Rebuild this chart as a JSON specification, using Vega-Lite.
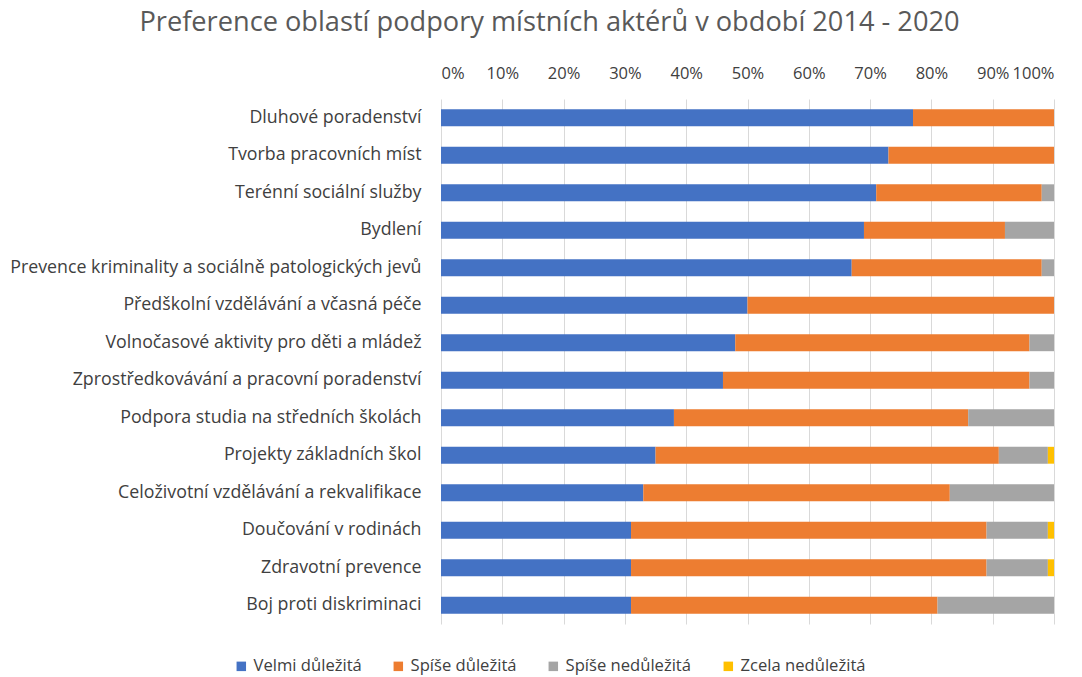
{
  "$schema": "https://vega.github.io/schema/vega-lite/v6.json",
  "autosize": {"type": "none"},
  "padding": {"left": 441, "top": 99, "right": 28, "bottom": 53},
  "width": 613,
  "height": 525,
  "background": "white",
  "title": {
    "text": "Preference oblastí podpory místních aktérů v období 2014 - 2020",
    "font": "Open Sans",
    "fontSize": 27.2,
    "fontWeight": "normal",
    "color": "#595959",
    "anchor": "middle",
    "frame": "group",
    "dx": -198,
    "offset": 28
  },
  "data": {
    "values": [
      {"oblast": "Dluhové poradenství", "kategorie": "Velmi důležitá", "poradi": 1, "podil": 77},
      {"oblast": "Dluhové poradenství", "kategorie": "Spíše důležitá", "poradi": 2, "podil": 23},
      {"oblast": "Tvorba pracovních míst", "kategorie": "Velmi důležitá", "poradi": 1, "podil": 73},
      {"oblast": "Tvorba pracovních míst", "kategorie": "Spíše důležitá", "poradi": 2, "podil": 27},
      {"oblast": "Terénní sociální služby", "kategorie": "Velmi důležitá", "poradi": 1, "podil": 71},
      {"oblast": "Terénní sociální služby", "kategorie": "Spíše důležitá", "poradi": 2, "podil": 27},
      {"oblast": "Terénní sociální služby", "kategorie": "Spíše nedůležitá", "poradi": 3, "podil": 2},
      {"oblast": "Bydlení", "kategorie": "Velmi důležitá", "poradi": 1, "podil": 69},
      {"oblast": "Bydlení", "kategorie": "Spíše důležitá", "poradi": 2, "podil": 23},
      {"oblast": "Bydlení", "kategorie": "Spíše nedůležitá", "poradi": 3, "podil": 8},
      {"oblast": "Prevence kriminality a sociálně patologických jevů", "kategorie": "Velmi důležitá", "poradi": 1, "podil": 67},
      {"oblast": "Prevence kriminality a sociálně patologických jevů", "kategorie": "Spíše důležitá", "poradi": 2, "podil": 31},
      {"oblast": "Prevence kriminality a sociálně patologických jevů", "kategorie": "Spíše nedůležitá", "poradi": 3, "podil": 2},
      {"oblast": "Předškolní vzdělávání a včasná péče", "kategorie": "Velmi důležitá", "poradi": 1, "podil": 50},
      {"oblast": "Předškolní vzdělávání a včasná péče", "kategorie": "Spíše důležitá", "poradi": 2, "podil": 50},
      {"oblast": "Volnočasové aktivity pro děti a mládež", "kategorie": "Velmi důležitá", "poradi": 1, "podil": 48},
      {"oblast": "Volnočasové aktivity pro děti a mládež", "kategorie": "Spíše důležitá", "poradi": 2, "podil": 48},
      {"oblast": "Volnočasové aktivity pro děti a mládež", "kategorie": "Spíše nedůležitá", "poradi": 3, "podil": 4},
      {"oblast": "Zprostředkovávání a pracovní poradenství", "kategorie": "Velmi důležitá", "poradi": 1, "podil": 46},
      {"oblast": "Zprostředkovávání a pracovní poradenství", "kategorie": "Spíše důležitá", "poradi": 2, "podil": 50},
      {"oblast": "Zprostředkovávání a pracovní poradenství", "kategorie": "Spíše nedůležitá", "poradi": 3, "podil": 4},
      {"oblast": "Podpora studia na středních školách", "kategorie": "Velmi důležitá", "poradi": 1, "podil": 38},
      {"oblast": "Podpora studia na středních školách", "kategorie": "Spíše důležitá", "poradi": 2, "podil": 48},
      {"oblast": "Podpora studia na středních školách", "kategorie": "Spíše nedůležitá", "poradi": 3, "podil": 14},
      {"oblast": "Projekty základních škol", "kategorie": "Velmi důležitá", "poradi": 1, "podil": 35},
      {"oblast": "Projekty základních škol", "kategorie": "Spíše důležitá", "poradi": 2, "podil": 56},
      {"oblast": "Projekty základních škol", "kategorie": "Spíše nedůležitá", "poradi": 3, "podil": 8},
      {"oblast": "Projekty základních škol", "kategorie": "Zcela nedůležitá", "poradi": 4, "podil": 1},
      {"oblast": "Celoživotní vzdělávání a rekvalifikace", "kategorie": "Velmi důležitá", "poradi": 1, "podil": 33},
      {"oblast": "Celoživotní vzdělávání a rekvalifikace", "kategorie": "Spíše důležitá", "poradi": 2, "podil": 50},
      {"oblast": "Celoživotní vzdělávání a rekvalifikace", "kategorie": "Spíše nedůležitá", "poradi": 3, "podil": 17},
      {"oblast": "Doučování v rodinách", "kategorie": "Velmi důležitá", "poradi": 1, "podil": 31},
      {"oblast": "Doučování v rodinách", "kategorie": "Spíše důležitá", "poradi": 2, "podil": 58},
      {"oblast": "Doučování v rodinách", "kategorie": "Spíše nedůležitá", "poradi": 3, "podil": 10},
      {"oblast": "Doučování v rodinách", "kategorie": "Zcela nedůležitá", "poradi": 4, "podil": 1},
      {"oblast": "Zdravotní prevence", "kategorie": "Velmi důležitá", "poradi": 1, "podil": 31},
      {"oblast": "Zdravotní prevence", "kategorie": "Spíše důležitá", "poradi": 2, "podil": 58},
      {"oblast": "Zdravotní prevence", "kategorie": "Spíše nedůležitá", "poradi": 3, "podil": 10},
      {"oblast": "Zdravotní prevence", "kategorie": "Zcela nedůležitá", "poradi": 4, "podil": 1},
      {"oblast": "Boj proti diskriminaci", "kategorie": "Velmi důležitá", "poradi": 1, "podil": 31},
      {"oblast": "Boj proti diskriminaci", "kategorie": "Spíše důležitá", "poradi": 2, "podil": 50},
      {"oblast": "Boj proti diskriminaci", "kategorie": "Spíše nedůležitá", "poradi": 3, "podil": 19}
    ]
  },
  "mark": {"type": "bar", "height": {"band": 0.45}},
  "encoding": {
    "y": {
      "field": "oblast",
      "type": "nominal",
      "sort": null,
      "scale": {"paddingInner": 0, "paddingOuter": 0},
      "axis": {
        "title": null,
        "ticks": false,
        "domain": false,
        "labelPadding": 20,
        "labelFont": "Open Sans",
        "labelFontSize": 17.8,
        "labelColor": "#404040",
        "labelLimit": 500
      }
    },
    "x": {
      "field": "podil",
      "type": "quantitative",
      "stack": "normalize",
      "scale": {"domain": [0, 1], "nice": false},
      "axis": {
        "orient": "top",
        "title": null,
        "format": ".0%",
        "values": [0, 0.1, 0.2, 0.3, 0.4, 0.5, 0.6, 0.7, 0.8, 0.9, 1],
        "ticks": false,
        "domain": false,
        "grid": true,
        "gridColor": "#d9d9d9",
        "gridWidth": 1,
        "labelPadding": 18,
        "labelFont": "Open Sans",
        "labelFontSize": 16.5,
        "labelColor": "#404040"
      }
    },
    "color": {
      "field": "kategorie",
      "type": "nominal",
      "scale": {
        "domain": ["Velmi důležitá", "Spíše důležitá", "Spíše nedůležitá", "Zcela nedůležitá"],
        "range": ["#4472C4", "#ED7D31", "#A5A5A5", "#FFC000"]
      },
      "legend": {
        "title": null,
        "orient": "none",
        "legendX": -208,
        "legendY": 559,
        "direction": "horizontal",
        "columns": 4,
        "columnPadding": 28,
        "symbolType": "square",
        "symbolSize": 90,
        "symbolStrokeWidth": 0,
        "labelFont": "Open Sans",
        "labelFontSize": 16.6,
        "labelColor": "#404040",
        "labelOffset": 4
      }
    },
    "order": {"field": "poradi", "type": "quantitative"}
  },
  "config": {"view": {"stroke": null}}
}
